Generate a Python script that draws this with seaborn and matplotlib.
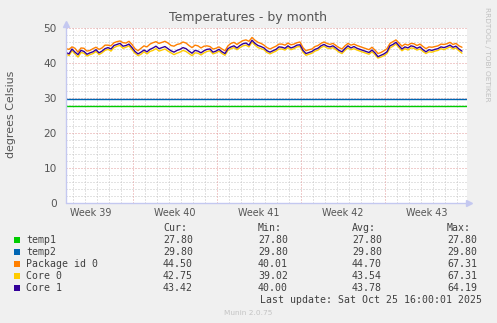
import numpy as np
import pandas as pd
import matplotlib
matplotlib.use("Agg")
import matplotlib.pyplot as plt
from matplotlib.patches import Rectangle
import seaborn as sns

# ---- data -------------------------------------------------------------
# sample times in days since the start of the 33-day window (6-hour steps)
days = np.arange(0, 33.01, 0.25)

temp1_val = 27.80
temp2_val = 29.80

package_id0 = [
    44.1, 43.9, 44.6, 44.2, 43.1, 44.3, 44.2, 43.4, 43.6, 44.1,
    44.5, 43.9, 44.3, 45.1, 45.1, 44.9, 45.8, 46.1, 46.3, 45.8,
    45.7, 46.2, 45.3, 44.1, 43.5, 44.2, 44.9, 44.6, 45.4, 45.8,
    46.1, 45.6, 45.9, 46.2, 45.7, 45.0, 44.8, 45.3, 45.5, 46.0,
    45.7, 45.0, 44.4, 45.1, 44.9, 44.3, 44.8, 44.9, 44.7, 44.0,
    44.2, 44.6, 44.0, 43.5, 44.9, 45.6, 45.9, 45.3, 45.9, 46.4,
    46.6, 46.2, 47.3, 46.5, 45.9, 45.6, 45.1, 44.4, 44.0, 44.4,
    44.8, 45.4, 45.4, 45.1, 45.7, 45.2, 45.4, 45.8, 46.0, 44.4,
    43.5, 43.8, 44.0, 44.7, 45.0, 45.6, 46.0, 45.6, 45.3, 45.6,
    45.0, 44.4, 44.0, 44.9, 45.6, 45.1, 45.4, 45.0, 44.7, 44.4,
    44.1, 43.8, 44.5, 43.7, 42.7, 43.0, 43.5, 44.1, 45.6, 46.1,
    46.6, 45.7, 44.8, 45.4, 45.1, 45.6, 45.5, 45.0, 45.4, 44.7,
    44.1, 44.6, 44.5, 44.7, 44.9, 45.4, 45.3, 45.5, 45.9, 45.3,
    45.6, 44.9, 44.5]

core0 = [
    42.6, 42.1, 43.5, 42.6, 41.7, 43.0, 42.8, 42.0, 42.4, 42.7,
    43.3, 42.4, 42.9, 43.6, 43.9, 43.4, 44.4, 44.8, 45.0, 44.2,
    44.5, 44.9, 43.8, 42.8, 42.1, 42.5, 43.2, 42.6, 43.3, 43.6,
    44.1, 43.4, 43.7, 44.0, 43.4, 42.9, 42.4, 42.8, 43.1, 43.6,
    43.3, 42.7, 42.1, 42.9, 42.8, 42.3, 42.9, 43.3, 43.5, 42.6,
    42.9, 43.4, 42.7, 42.2, 43.6, 44.1, 44.4, 43.8, 44.4, 44.9,
    45.1, 44.6, 46.0, 45.1, 44.4, 44.1, 43.8, 43.0, 42.6, 43.0,
    43.4, 44.0, 44.0, 43.7, 44.4, 43.8, 44.1, 44.6, 44.7, 43.1,
    42.2, 42.5, 42.8, 43.4, 43.7, 44.4, 44.8, 44.3, 44.1, 44.4,
    43.8, 43.1, 42.7, 43.6, 44.3, 43.8, 44.1, 43.7, 43.4, 43.1,
    42.8, 42.5, 43.2, 42.4, 41.4, 41.7, 42.1, 42.7, 44.3, 44.8,
    45.4, 44.4, 43.5, 44.1, 43.7, 44.3, 44.2, 43.7, 44.0, 43.3,
    42.7, 43.2, 43.1, 43.4, 43.6, 44.1, 43.8, 44.2, 44.6, 44.0,
    44.3, 43.5, 42.8]

core1 = [
    43.0, 42.6, 44.0, 43.1, 42.4, 43.6, 43.3, 42.5, 42.9, 43.2,
    43.8, 42.9, 43.4, 44.1, 44.4, 44.0, 45.0, 45.3, 45.6, 44.8,
    45.0, 45.4, 44.4, 43.3, 42.6, 43.1, 43.7, 43.2, 43.9, 44.3,
    44.8, 44.1, 44.4, 44.7, 44.1, 43.5, 43.1, 43.6, 43.9, 44.4,
    44.1, 43.4, 42.8, 43.6, 43.4, 42.9, 43.5, 43.9, 44.0, 43.1,
    43.4, 43.9, 43.2, 42.7, 44.1, 44.6, 44.9, 44.3, 45.0, 45.5,
    45.7, 45.1, 46.5, 45.6, 45.0, 44.7, 44.3, 43.5, 43.1, 43.5,
    43.9, 44.6, 44.5, 44.2, 44.9, 44.3, 44.6, 45.1, 45.2, 43.6,
    42.7, 43.0, 43.3, 43.9, 44.2, 44.9, 45.3, 44.8, 44.6, 44.9,
    44.3, 43.6, 43.2, 44.1, 44.9, 44.3, 44.7, 44.2, 43.9, 43.6,
    43.3, 43.0, 43.7, 42.9, 41.8, 42.2, 42.6, 43.2, 44.9, 45.3,
    45.9, 44.9, 44.0, 44.6, 44.3, 44.9, 44.7, 44.2, 44.6, 43.8,
    43.2, 43.8, 43.6, 43.9, 44.1, 44.6, 44.4, 44.7, 45.1, 44.5,
    44.8, 44.0, 43.4]

series_names = ["temp1", "temp2", "Package id 0", "Core 0", "Core 1"]
series_colors = ["#00cc00", "#0066b3", "#ff8000", "#ffcc00", "#330099"]

cur_vals = ["27.80", "29.80", "44.50", "42.75", "43.42"]
min_vals = ["27.80", "29.80", "40.01", "39.02", "40.00"]
avg_vals = ["27.80", "29.80", "44.70", "43.54", "43.78"]
max_vals = ["27.80", "29.80", "67.31", "67.31", "64.19"]

week_labels = ["Week 39", "Week 40", "Week 41", "Week 42", "Week 43"]
first_week_boundary = 5.58      # days from window start to the Week 40 boundary
span_days = 33.42

# ---- long-form table ---------------------------------------------------
frames = [
    pd.DataFrame({"day": [0.0, span_days], "temp": [temp1_val, temp1_val], "series": "temp1"}),
    pd.DataFrame({"day": [0.0, span_days], "temp": [temp2_val, temp2_val], "series": "temp2"}),
    pd.DataFrame({"day": days, "temp": package_id0, "series": "Package id 0"}),
    pd.DataFrame({"day": days, "temp": core0, "series": "Core 0"}),
    pd.DataFrame({"day": days, "temp": core1, "series": "Core 1"}),
]
df = pd.concat(frames, ignore_index=True)

# ---- figure ------------------------------------------------------------
sns.set_theme(style="white")
plt.rcParams["font.family"] = ["DejaVu Sans"]

W, H = 497, 323
fig = plt.figure(figsize=(W / 100, H / 100), dpi=100, facecolor="#f0f0f0")
ax = fig.add_axes([66 / W, 120 / H, 401 / W, 175 / H])
ax.set_facecolor("white")

ax.set_xlim(0, span_days)
ax.set_ylim(0, 50)

# grid: minor (grey) and major (red) dotted lines
minor_c = "#c6c6c6"
major_c = "#e39a9a"
dots = (0, (1, 2))
for y in range(2, 51, 2):
    if y % 10:
        ax.axhline(y, color=minor_c, lw=0.72, ls=dots, zorder=0)
for y in range(10, 51, 10):
    ax.axhline(y, color=major_c, lw=0.72, ls=dots, zorder=0.5)
d = first_week_boundary % 1
while d < span_days:
    off = (d - first_week_boundary) % 7
    if min(off, 7 - off) > 1e-6:
        ax.axvline(d, color=minor_c, lw=0.72, ls=dots, zorder=0)
    d += 1
wk = first_week_boundary
while wk < span_days:
    ax.axvline(wk, color=major_c, lw=0.72, ls=dots, zorder=0.5)
    wk += 7

# data lines
sns.lineplot(data=df, x="day", y="temp", hue="series", hue_order=series_names,
             palette=dict(zip(series_names, series_colors)), linewidth=1.0,
             estimator=None, sort=False, legend=False, ax=ax, zorder=3)

# axes: light lavender lines with arrow heads
axis_c = "#c4c8f0"
for s in ax.spines.values():
    s.set_visible(False)
ax.plot([0, 0], [0, 1.02], transform=ax.transAxes, color=axis_c, lw=1, clip_on=False, zorder=4)
ax.plot([0], [1.02], marker="^", markersize=4.5, color=axis_c, transform=ax.transAxes,
        clip_on=False, zorder=4)
ax.plot([0, 1.005], [0, 0], transform=ax.transAxes, color=axis_c, lw=1, clip_on=False, zorder=4)
ax.plot([1.005], [0], marker=">", markersize=4.5, color=axis_c, transform=ax.transAxes,
        clip_on=False, zorder=4)

# ticks
txt_c = "#555555"
ax.set_yticks(range(0, 51, 10))
ax.set_yticklabels([str(v) for v in range(0, 51, 10)])
label_pos = [first_week_boundary - 3.5 + 7 * i for i in range(len(week_labels))]
ax.set_xticks(label_pos)
ax.set_xticklabels(week_labels)
ax.tick_params(axis="y", length=0, pad=6.5, labelsize=7.6, labelcolor=txt_c)
ax.tick_params(axis="x", length=0, pad=3.5, labelsize=6.9, labelcolor=txt_c)
ax.set_xlabel("")
ax.set_ylabel("")

# titles and side text
def px(x, y):
    return x / W, 1 - y / H

fig.text(*px(248, 18), "Temperatures - by month", ha="center", va="center",
         fontsize=9, color="#555555")
fig.text(*px(11, 114), "degrees Celsius", ha="center", va="center", rotation=90,
         fontsize=7.9, color="#555555")
fig.text(*px(487, 54), "RRDTOOL / TOBI OETIKER", ha="center", va="center", rotation=270,
         fontsize=5.3, color="#c0c0c0")

# legend table
mono = "DejaVu Sans Mono"
leg_c = "#404040"
fs = 7.1
col_x = [163, 258, 352, 447]
for x, head in zip(col_x, ["Cur:", "Min:", "Avg:", "Max:"]):
    fig.text(*px(x, 228), head, ha="left", va="center", family=mono, fontsize=fs, color=leg_c)
for i, (name, col) in enumerate(zip(series_names, series_colors)):
    y = 240 + 12 * i
    fig.patches.append(Rectangle((14 / W, 1 - (y + 3) / H), 6 / W, 6 / H,
                                 transform=fig.transFigure, facecolor=col,
                                 edgecolor="none", figure=fig))
    fig.text(*px(26, y), name, ha="left", va="center", family=mono, fontsize=fs, color=leg_c)
    for x, vals in zip(col_x, [cur_vals, min_vals, avg_vals, max_vals]):
        fig.text(*px(x, y), vals[i], ha="left", va="center", family=mono,
                 fontsize=fs, color=leg_c)
fig.text(*px(482, 300), "Last update: Sat Oct 25 16:00:01 2025", ha="right", va="center",
         family=mono, fontsize=fs, color=leg_c)
fig.text(*px(248, 313), "Munin 2.0.75", ha="center", va="center", fontsize=5.3,
         color="#c4c4c4")

fig.savefig("out.png", dpi=100, facecolor=fig.get_facecolor())
